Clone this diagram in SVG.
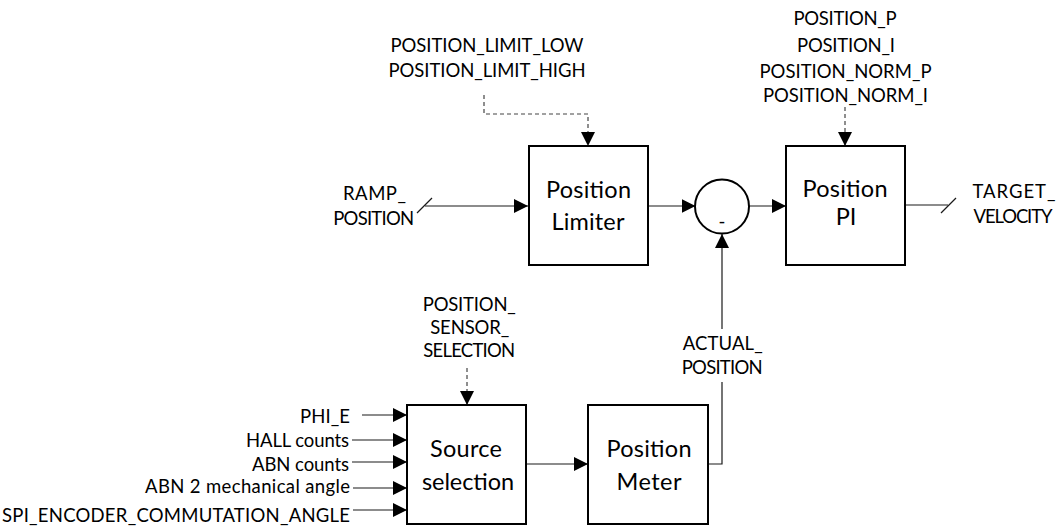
<svg xmlns="http://www.w3.org/2000/svg" width="1056" height="527" viewBox="0 0 1056 527">
<defs>
<marker id="arr" markerUnits="userSpaceOnUse" markerWidth="14" markerHeight="14" refX="14" refY="7" orient="auto" viewBox="0 0 14 14">
<path d="M0,0 L14,7 L0,14 z" fill="#000" stroke="none"/>
</marker>
<style>
.box{fill:#fff;stroke:#000;stroke-width:2}
.bt{font-family:Lato,"Liberation Sans",sans-serif;font-size:23.5px;fill:#000;text-anchor:middle}
.lb{font-family:Lato,"Liberation Sans",sans-serif;font-size:18.5px;fill:#000;text-anchor:middle}
.lr{font-family:Lato,"Liberation Sans",sans-serif;font-size:18.5px;fill:#000;text-anchor:end}
.ln{fill:none;stroke:#1a1a1a;stroke-width:1.2}
.ar{marker-end:url(#arr)}
.da{fill:none;stroke:#444;stroke-width:1.2;stroke-dasharray:4 3}
</style>
</defs>
<rect width="1056" height="527" fill="#fff"/>

<g id="connectors">
<path class="ln ar" d="M425,206 H528"/>
<path class="ln" d="M417,213 L432,198"/>
<path class="ln ar" d="M648,206 H695.5"/>
<path class="ln ar" d="M749,206 H786"/>
<path class="ln" d="M905,205 H948"/>
<path class="ln" d="M941,213 L956,198"/>
<path class="da ar" d="M484,95 V114 H588 V146"/>
<path class="da ar" d="M845,107 V146"/>
<path class="da ar" d="M467,368 V405"/>
<path class="ln" d="M708,464 H722 V382"/>
<path class="ln ar" d="M722,329 V234"/>
<path class="ln ar" d="M526,464 H588"/>
<path class="ln ar" d="M362,415 H407"/>
<path class="ln ar" d="M352,440 H407"/>
<path class="ln ar" d="M352,462 H407"/>
<path class="ln ar" d="M353,488 H407"/>
<path class="ln ar" d="M353,510 H407"/>
</g>

<g id="position-limiter">
<rect class="box" x="529" y="146" width="119" height="119"/>
<text class="bt" x="588.5" y="197.5" textLength="85">Position</text>
<text class="bt" x="588" y="230" textLength="73">Limiter</text>
</g>

<g id="sum">
<circle cx="722" cy="206.5" r="27" fill="#fff" stroke="#000" stroke-width="2"/>
<text class="lb" x="722" y="228">-</text>
</g>

<g id="position-pi">
<rect class="box" x="786" y="146" width="119" height="119"/>
<text class="bt" x="845" y="197" textLength="85">Position</text>
<text class="bt" x="846" y="225">PI</text>
</g>

<g id="source-selection">
<rect class="box" x="407" y="405" width="119" height="119"/>
<text class="bt" x="466" y="457.3" textLength="72">Source</text>
<text class="bt" x="468" y="490" textLength="92">selection</text>
</g>

<g id="position-meter">
<rect class="box" x="588" y="405" width="120" height="119"/>
<text class="bt" x="649" y="457.3" textLength="85">Position</text>
<text class="bt" x="649" y="490" textLength="65">Meter</text>
</g>

<g id="label-limits">
<text class="lb" x="487" y="52.3" textLength="193">POSITION_LIMIT_LOW</text>
<text class="lb" x="487" y="76.7" textLength="197">POSITION_LIMIT_HIGH</text>
</g>

<g id="label-pi-params">
<text class="lb" x="845" y="25" textLength="103">POSITION_P</text>
<text class="lb" x="846" y="51.5" textLength="98">POSITION_I</text>
<text class="lb" x="845.5" y="77.5" textLength="172">POSITION_NORM_P</text>
<text class="lb" x="845.5" y="101.7" textLength="165">POSITION_NORM_I</text>
</g>

<g id="label-ramp">
<text class="lb" x="374.5" y="199.7" textLength="63">RAMP_</text>
<text class="lb" x="373.7" y="225" textLength="81">POSITION</text>
</g>

<g id="label-target">
<text class="lb" x="1014" y="198.3" textLength="83">TARGET_</text>
<text class="lb" x="1013" y="223.3" textLength="79">VELOCITY</text>
</g>

<g id="label-actual">
<text class="lb" x="722.7" y="350" textLength="80">ACTUAL_</text>
<text class="lb" x="722.2" y="374" textLength="81">POSITION</text>
</g>

<g id="label-sensor">
<text class="lb" x="469.3" y="310.7" textLength="93">POSITION_</text>
<text class="lb" x="469.7" y="334.3" textLength="79">SENSOR_</text>
<text class="lb" x="469.2" y="357.3" textLength="92">SELECTION</text>
</g>

<g id="label-inputs">
<text class="lr" x="350" y="422.7" textLength="50">PHI_E</text>
<text class="lr" x="349" y="446.7" textLength="103">HALL counts</text>
<text class="lr" x="349" y="470.7" textLength="97">ABN counts</text>
<text class="lr" x="350" y="493" textLength="205">ABN 2 mechanical angle</text>
<text class="lr" x="350" y="521.7" textLength="348">SPI_ENCODER_COMMUTATION_ANGLE</text>
</g>
</svg>
